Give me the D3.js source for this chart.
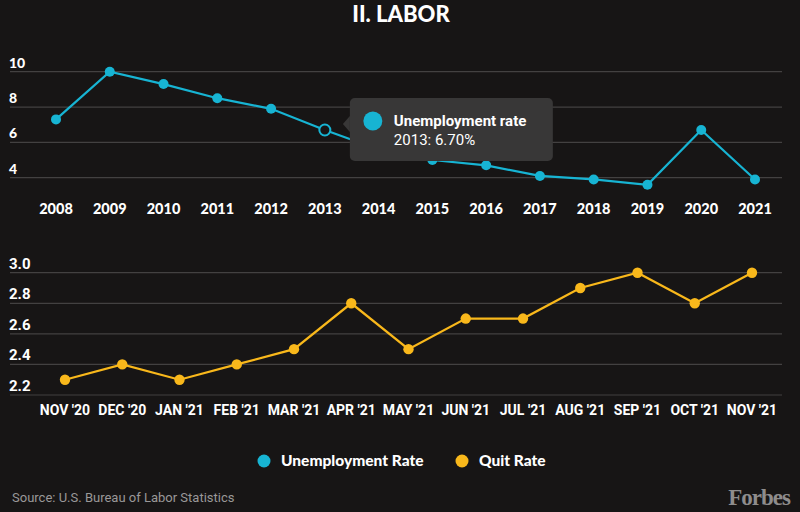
<!DOCTYPE html>
<html><head><meta charset="utf-8">
<script src="https://cdn.jsdelivr.net/npm/d3@7"></script>
<style>
html,body{margin:0;padding:0;background:#171515;}
svg{display:block;}
</style></head>
<body>
<svg id="chart" width="800" height="512"></svg>
<script>
const years = ["2008","2009","2010","2011","2012","2013","2014","2015","2016","2017","2018","2019","2020","2021"];
const unemployment = [7.3,10.0,9.3,8.5,7.9,6.7,5.6,5.0,4.7,4.1,3.9,3.6,6.7,3.9];
const months = ["NOV '20","DEC '20","JAN '21","FEB '21","MAR '21","APR '21","MAY '21","JUN '21","JUL '21","AUG '21","SEP '21","OCT '21","NOV '21"];
const quitRate = [2.3,2.4,2.3,2.4,2.5,2.8,2.5,2.7,2.7,2.9,3.0,2.8,3.0];
const topTicks = [4,6,8,10];
const bottomTicks = [2.2,2.4,2.6,2.8,3.0];
const seriesNames = ["Unemployment Rate","Quit Rate"];
const hoverIndex = 5;

const cyan = "#17b4d3", gold = "#f9b81b", bg = "#171515", grid = "#434141";
const svg = d3.select("#chart");
svg.append("rect").attr("width",800).attr("height",512).attr("fill",bg);

svg.append("text").attr("x",401).attr("y",22).attr("text-anchor","middle")
  .attr("fill","#fff").attr("font-family","Lato").attr("font-weight",900)
  .attr("font-size",22).text("II. LABOR");

// top chart
const xTop = d3.scalePoint().domain(years).range([56,755]);
const yTop = d3.scaleLinear().domain([4,10]).range([177.7,71.7]);
const gTop = svg.append("g");
gTop.selectAll("line.grid").data(topTicks).join("line")
  .attr("x1",10).attr("x2",782).attr("y1",d=>yTop(d)).attr("y2",d=>yTop(d))
  .attr("stroke",grid).attr("stroke-width",1.2);
gTop.selectAll("text.yl").data(topTicks).join("text")
  .attr("x",9).attr("y",d=>yTop(d)-4).attr("fill","#fff")
  .attr("font-family","Lato").attr("font-weight",900).attr("font-size",14)
  .text(d=>d);
gTop.selectAll("text.xl").data(years).join("text")
  .attr("x",d=>xTop(d)).attr("y",214).attr("text-anchor","middle").attr("fill","#fff")
  .attr("font-family","Lato").attr("font-weight",900).attr("font-size",14.5)
  .text(d=>d);
const lineTop = d3.line().x((d,i)=>xTop(years[i])).y(d=>yTop(d));
gTop.append("path").datum(unemployment).attr("d",lineTop)
  .attr("fill","none").attr("stroke",cyan).attr("stroke-width",2.2);
gTop.selectAll("circle").data(unemployment).join("circle")
  .attr("cx",(d,i)=>xTop(years[i])).attr("cy",d=>yTop(d))
  .attr("r",(d,i)=>i===hoverIndex?5.5:5)
  .attr("fill",(d,i)=>i===hoverIndex?bg:cyan)
  .attr("stroke",(d,i)=>i===hoverIndex?cyan:"none").attr("stroke-width",2);

// bottom chart
const xBot = d3.scalePoint().domain(months).range([65,752]);
const yBot = d3.scaleLinear().domain([2.2,3.0]).range([395,272.7]);
const gBot = svg.append("g");
gBot.selectAll("line.grid").data(bottomTicks).join("line")
  .attr("x1",10).attr("x2",782).attr("y1",d=>yBot(d)).attr("y2",d=>yBot(d))
  .attr("stroke",grid).attr("stroke-width",1.2);
gBot.selectAll("text.yl").data(bottomTicks).join("text")
  .attr("x",9).attr("y",d=>yBot(d)-4).attr("fill","#fff")
  .attr("font-family","Roboto").attr("font-weight",700).attr("font-size",15)
  .text(d=>d.toFixed(1));
gBot.selectAll("text.xl").data(months).join("text")
  .attr("x",d=>xBot(d)).attr("y",415).attr("text-anchor","middle").attr("fill","#fff")
  .attr("font-family","Roboto").attr("font-weight",700).attr("font-size",14)
  .text(d=>d);
const lineBot = d3.line().x((d,i)=>xBot(months[i])).y(d=>yBot(d));
gBot.append("path").datum(quitRate).attr("d",lineBot)
  .attr("fill","none").attr("stroke",gold).attr("stroke-width",2.2);
gBot.selectAll("circle").data(quitRate).join("circle")
  .attr("cx",(d,i)=>xBot(months[i])).attr("cy",d=>yBot(d)).attr("r",5.2)
  .attr("fill",gold);

// tooltip
const tx = xTop(years[hoverIndex]) + 25, ty = 98;
const tip = svg.append("g");
tip.append("rect").attr("x",tx).attr("y",ty).attr("width",203).attr("height",63)
  .attr("rx",5).attr("fill","#383737");
tip.append("path").attr("d",`M${tx} ${ty+18} L${tx-7} ${ty+26} L${tx} ${ty+34} Z`).attr("fill","#383737");
tip.append("circle").attr("cx",tx+23).attr("cy",ty+23).attr("r",9.5).attr("fill",cyan);
tip.append("text").attr("x",tx+44).attr("y",ty+28).attr("fill","#fff")
  .attr("font-family","Roboto").attr("font-weight",700).attr("font-size",15)
  .text("Unemployment rate");
tip.append("text").attr("x",tx+44).attr("y",ty+47).attr("fill","#fff")
  .attr("font-family","Roboto").attr("font-weight",400).attr("font-size",15)
  .text(years[hoverIndex] + ": " + unemployment[hoverIndex].toFixed(2) + "%");

// legend
const legend = svg.append("g");
const legItems = [{name:seriesNames[0],color:cyan,x:264},{name:seriesNames[1],color:gold,x:462}];
legItems.forEach(it=>{
  legend.append("circle").attr("cx",it.x).attr("cy",461).attr("r",6.5).attr("fill",it.color);
  legend.append("text").attr("x",it.x+17).attr("y",466).attr("fill","#fff")
    .attr("font-family","Lato").attr("font-weight",900).attr("font-size",15.5)
    .text(it.name);
});

svg.append("text").attr("x",12).attr("y",502).attr("fill","#9a9898")
  .attr("font-family","Roboto").attr("font-size",13).text("Source: U.S. Bureau of Labor Statistics");
svg.append("text").attr("x",790).attr("y",505).attr("text-anchor","end").attr("fill","#8e8c8c")
  .attr("font-family","Liberation Serif").attr("font-weight",700).attr("font-size",23)
  .attr("letter-spacing",-1).text("Forbes");
</script>
</body></html>
